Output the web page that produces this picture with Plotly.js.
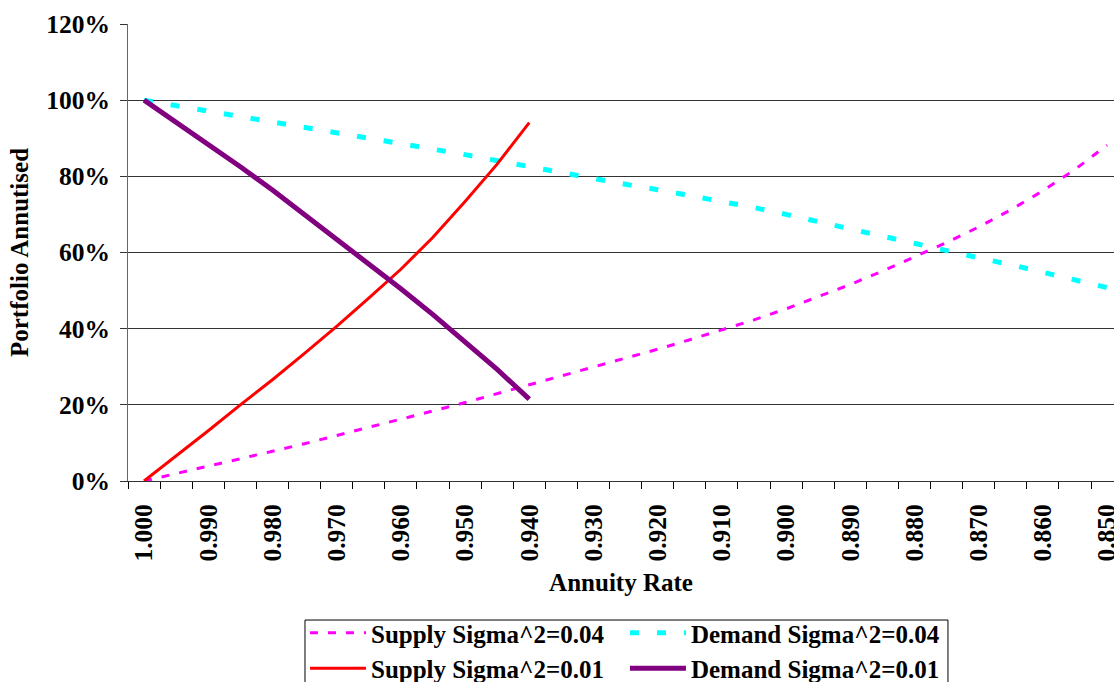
<!DOCTYPE html>
<html>
<head>
<meta charset="utf-8">
<script src="https://cdn.plot.ly/plotly-3.0.1.min.js"></script>
<style>
  html, body { margin: 0; padding: 0; background: #fff; }
  #chart { width: 1114px; height: 682px; }
</style>
</head>
<body>
<div id="chart"></div>
<script>
// Annuity rate categories (x)
const rates = [1.000, 0.995, 0.990, 0.985, 0.980, 0.975, 0.970, 0.965, 0.960, 0.955,
               0.950, 0.945, 0.940, 0.935, 0.930, 0.925, 0.920, 0.915, 0.910, 0.905,
               0.900, 0.895, 0.890, 0.885, 0.880, 0.875, 0.870, 0.865, 0.860, 0.855, 0.850];
const ratesShort = [1.000, 0.995, 0.990, 0.985, 0.980, 0.975, 0.970, 0.965, 0.960, 0.955,
                    0.950, 0.945, 0.940];

// Portfolio annuitised (fraction)
const supply004 = [0.000, 0.019, 0.039, 0.058, 0.078, 0.098, 0.119, 0.140, 0.162, 0.184,
                   0.206, 0.229, 0.252, 0.275, 0.298, 0.322, 0.346, 0.371, 0.396, 0.423,
                   0.452, 0.483, 0.516, 0.551, 0.588, 0.626, 0.667, 0.712, 0.762, 0.818, 0.882];
const demand004 = [1.000, 0.986, 0.972, 0.958, 0.944, 0.930, 0.915, 0.901, 0.887, 0.873,
                   0.857, 0.841, 0.825, 0.809, 0.793, 0.779, 0.765, 0.750, 0.736, 0.718,
                   0.700, 0.681, 0.662, 0.642, 0.622, 0.602, 0.586, 0.568, 0.549, 0.529, 0.508];
const supply001 = [0.000, 0.065, 0.132, 0.200, 0.266, 0.335, 0.406, 0.480, 0.556, 0.640,
                   0.734, 0.832, 0.941];
const demand001 = [1.000, 0.942, 0.884, 0.825, 0.764, 0.700, 0.635, 0.570, 0.505, 0.437,
                   0.367, 0.293, 0.215];

const names = ['Supply Sigma^2=0.04', 'Demand Sigma^2=0.04', 'Supply Sigma^2=0.01', 'Demand Sigma^2=0.01'];

const FONT = 'Liberation Serif, Times New Roman, serif';

const traces = [
  { x: rates, y: supply004, name: names[0], mode: 'lines', legend: 'legend',
    line: { color: '#FF00FF', width: 3, dash: '8px,10px' } },
  { x: rates, y: demand004, name: names[1], mode: 'lines', legend: 'legend2',
    line: { color: '#00FFFF', width: 5, dash: '9px,18px' } },
  { x: ratesShort, y: supply001, name: names[2], mode: 'lines', legend: 'legend',
    line: { color: '#FF0000', width: 3 } },
  { x: ratesShort, y: demand001, name: names[3], mode: 'lines', legend: 'legend2',
    line: { color: '#800080', width: 5 } }
];

const layout = {
  width: 1114, height: 682,
  margin: { l: 128, r: 0, t: 24, b: 201, autoexpand: false },
  paper_bgcolor: '#fff', plot_bgcolor: '#fff',
  font: { family: FONT, size: 25, color: '#000', weight: 'bold' },
  showlegend: true,
  xaxis: {
    type: 'linear',
    range: [1.0025, 0.84892],
    tick0: 0, dtick: 0.01, tickformat: '.3f',
    tickangle: -90,
    ticks: '',
    ticklabelstandoff: 12,
    ticklabeloverflow: 'allow',
    tickfont: { family: FONT, size: 25.5, weight: 'bold' },
    minor: { tick0: 0.0025, dtick: 0.005, ticks: 'outside', ticklen: 7, tickwidth: 1, tickcolor: '#000', showgrid: false },
    showgrid: false, zeroline: false,
    showline: true, linecolor: '#333', linewidth: 1,
    title: { text: 'Annuity Rate', font: { family: FONT, size: 25, weight: 'bold' }, standoff: 12 }
  },
  yaxis: {
    range: [0, 1.2], dtick: 0.2, tick0: 0, tickformat: '.0%',
    ticks: 'outside', ticklen: 7, tickwidth: 1, tickcolor: '#333',
    ticklabelstandoff: 5,
    tickfont: { family: FONT, size: 25.5, weight: 'bold' },
    showgrid: true, gridcolor: '#333', gridwidth: 1,
    zeroline: false, showline: true, linecolor: '#666', linewidth: 1,
    title: { text: 'Portfolio Annutised', font: { family: FONT, size: 25, weight: 'bold' }, standoff: 10 }
  },
  legend: {
    x: 0.1795, xanchor: 'left', y: -0.2823, yanchor: 'top',
    orientation: 'v', bgcolor: 'rgba(0,0,0,0)', borderwidth: 0,
    itemwidth: 56, tracegroupgap: 0,
    font: { family: FONT, size: 25, weight: 'bold' }
  },
  legend2: {
    x: 0.504, xanchor: 'left', y: -0.2823, yanchor: 'top',
    orientation: 'v', bgcolor: 'rgba(0,0,0,0)', borderwidth: 0,
    itemwidth: 56, tracegroupgap: 0,
    font: { family: FONT, size: 25, weight: 'bold' }
  },
  shapes: [
    { type: 'rect', xref: 'paper', yref: 'paper',
      x0: 0.1795, x1: 0.8316, y0: -0.479, y1: -0.3042,
      line: { color: '#000', width: 1 }, fillcolor: 'rgba(0,0,0,0)', layer: 'below' }
  ]
};

Plotly.newPlot('chart', traces, layout, { displayModeBar: false, staticPlot: true });
</script>
</body>
</html>
